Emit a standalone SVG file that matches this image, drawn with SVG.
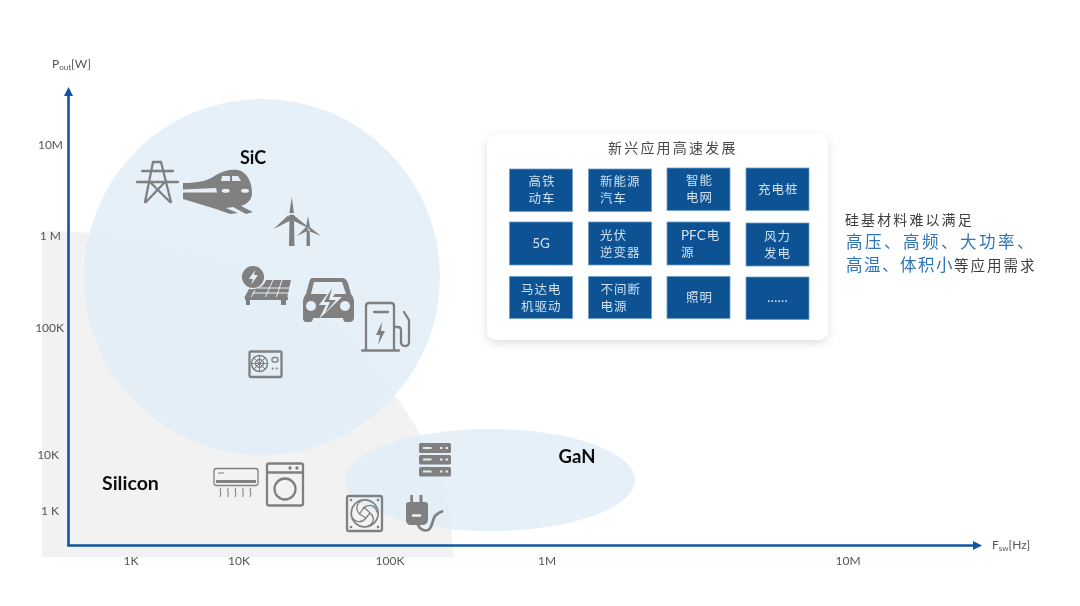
<svg xmlns="http://www.w3.org/2000/svg" width="1080" height="606" viewBox="0 0 1080 606">
<style>
.ax{font-family:"Lato","Liberation Sans",sans-serif;font-size:12px;fill:#555}
.big{font-family:"Lato","Liberation Sans",sans-serif;font-weight:700;fill:#111}
.box{fill:#0b5394;stroke:#6f9fc9;stroke-width:.8}
.bt{font-family:"Noto Sans CJK SC","Liberation Sans",sans-serif;font-size:12.5px;letter-spacing:1px;fill:#cfe0ef}
.lt{font-family:"Lato","Liberation Sans",sans-serif;font-size:13.5px;font-weight:400;letter-spacing:0;fill:#d6e4f1}
.zh{font-family:"Noto Sans CJK SC",sans-serif}
.ic{fill:#808080;stroke:none}
.ol{fill:none;stroke:#808080;stroke-width:2.3;stroke-linecap:round;stroke-linejoin:round}
.wh{fill:#e6eff8;stroke:none}
.blob{fill:#dfecf7;fill-opacity:.8}
</style>
<defs>
<filter id="soft" x="-5%" y="-5%" width="110%" height="110%"><feGaussianBlur stdDeviation="0.45"/></filter>
<filter id="shadow" x="-10%" y="-10%" width="120%" height="125%"><feDropShadow dx="0" dy="3" stdDeviation="5" flood-color="#000" flood-opacity=".13"/></filter>
<marker id="arr" markerUnits="userSpaceOnUse" markerWidth="10" markerHeight="10" refX="3" refY="4.500" orient="auto"><path d="M0 0L9 4.500L0 9Z" fill="#0f56a0"/></marker>
</defs>
<rect width="1080" height="606" fill="#fff"/>
<g filter="url(#soft)">
<g id="region-silicon"><path d="M42 231C160 231 300 270 373 367C400 400 420 430 434 462C446 490 453 525 453 557L42 557Z" fill="#f2f2f2"/></g>
<g id="region-sic"><circle class="blob" cx="262" cy="277" r="178"/><text class="big" x="253" y="164" font-size="18" text-anchor="middle">SiC</text></g>
<g id="region-gan"><ellipse class="blob" cx="490" cy="480" rx="145" ry="51"/><text class="big" x="577" y="463" font-size="18.500" text-anchor="middle">GaN</text></g>
<text class="big" x="102" y="490" font-size="19.500">Silicon</text>
<g id="axes" fill="none" stroke="#0f56a0" stroke-width="2.600">
<path d="M68.500 545.500V93" marker-end="url(#arr)"/>
<path d="M67.200 545.500H976" marker-end="url(#arr)"/>
</g>
<g id="axis-labels">
<text class="ax" x="52" y="68">P<tspan font-size="8" dy="2">out</tspan><tspan dy="-2">[W]</tspan></text>
<text class="ax" x="63" y="149" text-anchor="end">10M</text>
<text class="ax" x="61" y="240" text-anchor="end">1 M</text>
<text class="ax" x="64" y="332" text-anchor="end">100K</text>
<text class="ax" x="59" y="459" text-anchor="end">10K</text>
<text class="ax" x="59" y="515" text-anchor="end">1 K</text>
<text class="ax" x="131" y="565" text-anchor="middle">1K</text>
<text class="ax" x="239" y="565" text-anchor="middle">10K</text>
<text class="ax" x="390" y="565" text-anchor="middle">100K</text>
<text class="ax" x="547" y="565" text-anchor="middle">1M</text>
<text class="ax" x="848" y="565" text-anchor="middle">10M</text>
<text class="ax" x="992" y="549">F<tspan font-size="8" dy="2">sw</tspan><tspan dy="-2">[Hz]</tspan></text>
</g>
<g id="icon-tower">
<path class="ol" d="M142 171H173M137 182H178M153 162H161M153 162L145 202M161 162L171 202M150 182L170 202M165 182L146 202"/>
</g>
<g id="icon-train">
<path class="ic" d="M183 183C198 183 208 181 216 175C224 170 232 169 238 170C247 172 252 182 252 193C252 199 248 204 241 206L253 212L246 214L233 207L226 208L238 213L230 214L216 209C205 206 194 202 183 199Z"/>
<path class="wh" d="M183 189.500L216 188L217 192.500L183 192.500ZM222 176H230V181H221ZM232 176H238L241 181H232Z"/>
<ellipse class="wh" cx="225.700" cy="190.700" rx="4" ry="2"/><ellipse class="wh" cx="245" cy="190.700" rx="4" ry="2"/>
</g>
<g id="icon-wind">
<path class="ic" d="M289.500 219H294L294.500 246H289ZM291.700 197L294 213L289.400 213ZM273.500 229L288 215.500L290.500 220.500ZM312 230L294 215.500L293 220.500Z"/>
<circle class="ic" cx="291.700" cy="217.700" r="3.300"/>
<path class="ic" d="M306.700 229H309.700L310 246H306.500ZM308 216L310 227H306ZM297 236L306.500 226.500L308.500 230.500ZM321 236L309 226.500L307.500 230.500Z"/>
</g>
<g id="icon-solar">
<circle class="ic" cx="253" cy="277" r="11"/>
<path class="wh" d="M255 270L249 279H253L251 285L258 275H254Z"/>
<path class="ic" d="M266 280H291L287 298H244L249 289C258 290 264 286 266 280Z"/>
<path d="M273 280L265 298M282 280L276 298M252 293H289M258 288H290M255 290L251 298" stroke="#e6eff8" stroke-width="1" fill="none"/>
<path class="ic" d="M245 297H288V300H286V305H281V300H250V305H246V300H245Z"/>
</g>
<g id="icon-car">
<path class="ic" d="M313 278H342C345 278 347 280 348 283L351 294C353 296 354 299 354 302V318C354 320 352 322 350 322H346C344 322 343 320 343 318H313V318C313 320 312 322 310 322H306C304 322 303 320 303 318V302C303 299 304 296 306 294L309 283C310 280 310 278 313 278Z"/>
<path class="wh" d="M314 282H342L346 294H311Z"/>
<circle class="wh" cx="311" cy="306" r="5"/><circle class="wh" cx="345" cy="306" r="5"/>
<path class="wh" d="M334 285L319 305H326L319 319L342 297H333L339 287Z"/>
<path class="ic" d="M332 288L324 302H330L325 313L336 300H329Z"/>
</g>
<g id="icon-charger">
<path class="ol" d="M362 350.500H399M366 349V306C366 304 367 303 369 303H391C393 303 394 304 394 306V349M374 312H388M394 327H398C400 327 401 329 401 331V342C401 345 403 346 405 346C407 346 409 345 409 342V320L404 312"/>
<path class="ic" d="M382 322L376 335H380L378 345L385 331H381Z"/>
</g>
<g id="icon-outdoor">
<rect x="249.500" y="351.500" width="32" height="25.500" rx="1.500" class="ol"/>
<circle cx="259.500" cy="363.500" r="8" class="ol" style="stroke-width:1.500"/>
<circle cx="259.500" cy="363.500" r="4" class="ol" style="stroke-width:1.500"/>
<path d="M259.500 355.500V371.500M251.500 363.500H267.500M254 358L265 369M265 358L254 369" stroke="#808080" stroke-width="1"/>
<rect x="272" y="357.500" width="6" height="4.500" rx="2" class="ol" style="stroke-width:1.300"/>
<circle class="ic" cx="272.700" cy="368.500" r="1"/><circle class="ic" cx="276.700" cy="368.500" r="1"/>
</g>
<g id="icon-ac">
<rect x="214" y="468.500" width="44" height="17" rx="2.500" class="ol" style="stroke-width:1.300"/>
<path d="M216 481.500H256" stroke="#808080" stroke-width="3" fill="none"/>
<path d="M218 473H224" stroke="#808080" stroke-width="1"/>
<path d="M221 488C218 490 223 492 220 497M228.500 488C225.500 490 230.500 492 227.500 497M236 488C233 490 238 492 235 497M243.500 488C240.500 490 245.500 492 242.500 497M251 488C248 490 253 492 250 497" stroke="#8c8c8c" stroke-width="1.200" fill="none"/>
</g>
<g id="icon-washer">
<rect x="267" y="463.500" width="36" height="42" rx="2" class="ol"/>
<path class="ol" d="M267 472.500H303"/>
<circle class="ic" cx="290" cy="468" r="1.700"/><circle class="ic" cx="297" cy="468" r="1.700"/>
<circle cx="285" cy="489" r="10.500" class="ol"/>
</g>
<g id="icon-fan">
<rect x="347" y="496" width="35" height="35" rx="2" class="ol"/>
<circle cx="364.700" cy="513.300" r="13.500" class="ol" style="stroke-width:1.700"/>
<path class="ol" style="stroke-width:1.300" d="M364.700 507C371 503 376 507 377 512M370 513C376 518 373 524 368 526M366 518C361 524 355 522 352 517M359.500 514C354 508 358 502 363 500M364 507L370 513L366 518L359.500 514Z"/>
<circle class="ic" cx="351" cy="500" r="1.300"/><circle class="ic" cx="378" cy="500" r="1.300"/><circle class="ic" cx="351" cy="527" r="1.300"/><circle class="ic" cx="378" cy="527" r="1.300"/>
</g>
<g id="icon-plug">
<path class="ic" d="M410.300 495H413V502H419.500V495H422.500V502H425C427 502 428 503 428 505V519C428 522 426 525 423 525H411C408 525 406 523 406 520V505C406 503 407 502 409 502H410.300Z"/>
<path d="M413 515.500H420" stroke="#f0f3f6" stroke-width="2.500" stroke-linecap="round"/>
<path d="M418 525C420 530 425 531 428 530C433 528 432 518 436 515C438 513 440 512 442 511.500" fill="none" stroke="#808080" stroke-width="2.800" stroke-linecap="round"/>
</g>
<g id="icon-server">
<rect class="ic" x="419" y="443" width="32" height="10" rx="1.500"/><rect class="ic" x="419" y="455" width="32" height="9.500" rx="1.500"/><rect class="ic" x="419" y="467" width="32" height="9.500" rx="1.500"/>
<path d="M423 448H431.500M423 459.500H431.500M423 471.500H431.500M440 448H442.500M445.500 448H448M440 459.500H442.500M445.500 459.500H448M440 471.500H442.500M445.500 471.500H448" stroke="#e6eaf0" stroke-width="2"/>
</g>
<g id="panel">
<rect x="487" y="134" width="341" height="206" rx="10" fill="#fff" filter="url(#shadow)"/>
<text class="zh" x="608" y="153" font-size="14" letter-spacing="2.200" fill="#4a4a4a">新兴应用高速发展</text>
</g>
<g id="n-gaotie"><rect class="box" x="509.500" y="169" width="63" height="42.500"/><text class="bt" x="528.500" y="186">高铁</text><text class="bt" x="528.500" y="203">动车</text></g>
<g id="n-xinnengyuan"><rect class="box" x="588.500" y="169" width="63" height="42.500"/><text class="bt" x="600" y="186">新能源</text><text class="bt" x="600" y="203">汽车</text></g>
<g id="n-zhineng"><rect class="box" x="667" y="168" width="63" height="42.500"/><text class="bt" x="686" y="185">智能</text><text class="bt" x="686" y="202">电网</text></g>
<g id="n-chongdian"><rect class="box" x="746" y="168" width="63" height="42.500"/><text class="bt" x="758" y="194">充电桩</text></g>
<g id="n-5g"><rect class="box" x="509.500" y="222" width="63" height="43"/><text class="lt" x="541" y="248" text-anchor="middle">5G</text></g>
<g id="n-guangfu"><rect class="box" x="588.500" y="222" width="63" height="43"/><text class="bt" x="600" y="240">光伏</text><text class="bt" x="600" y="257">逆变器</text></g>
<g id="n-pfc"><rect class="box" x="667" y="222" width="63" height="43"/><text class="lt" x="681" y="240">PFC<tspan class="bt" dx="1">电</tspan></text><text class="bt" x="681" y="257">源</text></g>
<g id="n-fengli"><rect class="box" x="746" y="223" width="63" height="43"/><text class="bt" x="764" y="241">风力</text><text class="bt" x="764" y="258">发电</text></g>
<g id="n-mada"><rect class="box" x="509.500" y="276.500" width="63" height="42"/><text class="bt" x="521" y="294">马达电</text><text class="bt" x="521" y="311">机驱动</text></g>
<g id="n-ups"><rect class="box" x="588.500" y="276.500" width="63" height="42"/><text class="bt" x="600.500" y="294">不间断</text><text class="bt" x="600.500" y="311">电源</text></g>
<g id="n-zhaoming"><rect class="box" x="667" y="276.500" width="63" height="42"/><text class="bt" x="686" y="302">照明</text></g>
<g id="n-more"><rect class="box" x="746" y="277" width="63" height="42.500"/><text class="lt" x="777.500" y="302" text-anchor="middle">……</text></g>
<g id="note">
<text class="zh" x="845" y="225" font-size="14" letter-spacing="2.100" fill="#404040">硅基材料难以满足</text>
<text class="zh" x="846" y="248" font-size="16.500" letter-spacing="2.500" fill="#2e75b6">高压、高频、大功率、</text>
<text class="zh" x="846" y="271" font-size="16.500" letter-spacing="1.500" fill="#2e75b6">高温、体积小<tspan font-size="14.500" letter-spacing="2" fill="#404040">等应用需求</tspan></text>
</g>
</g>
</svg>
